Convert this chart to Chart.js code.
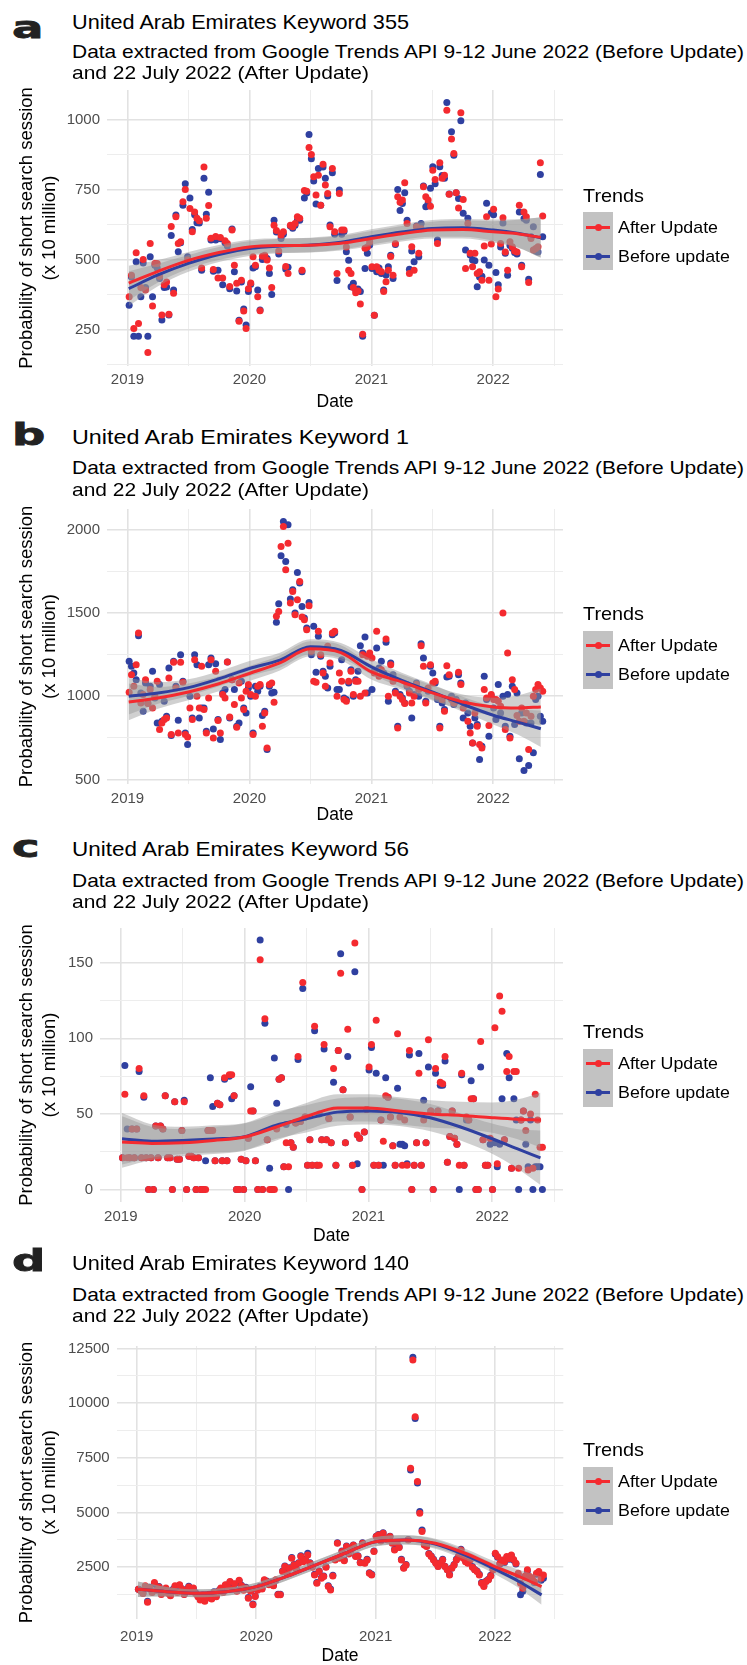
<!DOCTYPE html>
<html>
<head>
<meta charset="utf-8">
<title>UAE keyword trends</title>
<script src="https://cdn.jsdelivr.net/npm/chart.js@4.4.1/dist/chart.umd.min.js"></script>
<style>
  html, body { margin: 0; padding: 0; background: #fff; }
  body { position: relative; width: 747px; height: 1665px; overflow: hidden;
         font-family: "Liberation Sans", Arial, Helvetica, sans-serif; color: #000; }
  canvas { position: absolute; left: 0; z-index: 0; }
  .t { position: absolute; white-space: nowrap; line-height: 1; transform-origin: 0 50%; z-index: 1; }
  .letter { font-family: "DejaVu Sans", sans-serif; font-weight: bold; font-size: 31px; color: #222;
            transform: scaleX(1.5); -webkit-text-stroke: 0.8px #222; }
  .title { font-size: 21px; }
  .sub { font-size: 19px; }
  .leg-title { font-size: 19px; }
  .leg-label { font-size: 17px; }
  .key-box { position: absolute; background: #c2c2c2; z-index: 1; }
  .key-line { position: absolute; height: 3px; z-index: 2; }
  .key-dot { position: absolute; width: 7px; height: 7px; border-radius: 50%; z-index: 3; }
</style>
</head>
<body>
<script>
// weekly Google Trends series, first week starting 6 Jan 2019
const firstWeek = Date.UTC(2019, 0, 6);

// a - Keyword 355
const afterA = [367, 444, 254, 524, 272, 400, 500, 391, 168, 557,
  334, 486, 486, 440, 302, 410, 420, 305, 618, 380,
  653, 557, 563, 706, 750, 498, 682, 599, 670, 647,
  638, 470, 830, 647, 693, 576, 464, 582, 434, 579,
  434, 567, 557, 404, 605, 480, 415, 280, 426, 316,
  254, 396, 416, 510, 480, 367, 317, 512, 515, 498,
  470, 400, 622, 604, 530, 587, 599, 475, 450, 622,
  617, 629, 653, 647, 462, 746, 744, 900, 875, 795,
  730, 801, 694, 840, 766, 736, 617, 825, 599, 450,
  736, 605, 605, 545, 462, 450, 400, 381, 388, 341,
  233, 540, 545, 563, 474, 301, 474, 462, 456, 386,
  421, 462, 511, 444, 557, 724, 704, 712, 774, 629,
  450, 546, 462, 617, 522, 610, 760, 724, 712, 690,
  819, 786, 557, 845, 790, 801, 1033, 733, 930, 878,
  738, 684, 1024, 714, 468, 629, 522, 474, 522, 450,
  456, 426, 548, 653, 426, 555, 679, 367, 395, 557,
  649, 527, 462, 563, 546, 530, 527, 694, 474, 670,
  653, 418, 575, 534, 539, 546, 845, 655];
const beforeA = [337, 438, 226, 492, 226, 367, 488, 400, 226, 510,
  367, 480, 470, 432, 284, 400, 402, 302, 586, 391,
  659, 528, 560, 694, 770, 510, 720, 607, 660, 631,
  630, 462, 790, 662, 740, 570, 458, 570, 462, 574,
  410, 560, 548, 396, 609, 456, 388, 283, 420, 323,
  266, 386, 412, 470, 474, 391, 320, 500, 512, 504,
  450, 375, 640, 598, 520, 575, 590, 466, 472, 620,
  612, 622, 640, 640, 456, 720, 737, 946, 860, 780,
  698, 825, 694, 830, 790, 727, 623, 810, 590, 425,
  748, 590, 600, 528, 497, 403, 415, 392, 395, 386,
  226, 468, 522, 552, 468, 301, 456, 470, 450, 391,
  445, 474, 515, 432, 554, 750, 675, 700, 738, 640,
  465, 530, 492, 620, 510, 629, 762, 688, 700, 754,
  831, 770, 570, 831, 800, 790, 1060, 734, 956, 872,
  738, 718, 995, 665, 534, 647, 516, 498, 496, 403,
  438, 440, 498, 701, 480, 666, 660, 454, 410, 545,
  630, 522, 444, 550, 540, 525, 520, 670, 480, 646,
  640, 430, 581, 617, 530, 527, 803, 581];

// b - Keyword 1
const afterB = [1024, 1130, 1060, 1190, 1380, 960, 1010, 1100, 956, 1040,
  930, 1000, 1090, 800, 840, 860, 870, 1110, 770, 1204,
  1050, 780, 1204, 1084, 770, 756, 930, 860, 1220, 1000,
  930, 1180, 920, 780, 990, 1220, 750, 1150, 854, 780,
  1010, 990, 1206, 876, 1100, 950, 814, 1080, 990, 920,
  1030, 1070, 1010, 770, 1000, 1060, 1070, 820, 900, 690,
  1070, 1080, 964, 1480, 1510, 1900, 2020, 1760, 1920, 1560,
  1630, 1490, 1580, 1690, 1476, 1460, 1400, 1544, 1270, 1090,
  1084, 1390, 1250, 1140, 1060, 1300, 1200, 1380, 1390, 1000,
  1140, 1090, 980, 970, 1090, 1150, 1010, 1090, 1090, 1000,
  1250, 1020, 1240, 1260, 1230, 1140, 1390, 1120, 1160, 1130,
  1344, 1000, 1190, 1090, 1020, 810, 1000, 980, 956, 1070,
  1020, 960, 1000, 1070, 1040, 1304, 1180, 960, 1050, 1190,
  1080, 1090, 1000, 810, 980, 910, 1184, 1130, 980, 960,
  970, 1144, 1070, 930, 950, 850, 780, 720, 900, 820,
  710, 690, 1040, 990, 824, 1010, 980, 980, 970, 940,
  1500, 800, 1260, 750, 1100, 1040, 884, 850, 930, 850,
  900, 680, 880, 1000, 1040, 1070, 1050, 1030];
const beforeB = [1210, 1180, 1140, 1100, 1364, 1020, 910, 1080, 960, 1060,
  1150, 990, 840, 1070, 850, 970, 880, 1170, 764, 1210,
  1060, 856, 1250, 1090, 780, 710, 1000, 870, 1250, 1190,
  870, 930, 930, 790, 1190, 1230, 804, 1196, 860, 740,
  1020, 1040, 1206, 870, 1100, 1040, 820, 840, 1090, 930,
  900, 1050, 1000, 780, 1060, 1030, 1060, 884, 910, 680,
  1060, 1020, 1024, 1444, 1556, 1844, 2050, 1810, 2030, 1584,
  1640, 1500, 1744, 1680, 1540, 1470, 1410, 1564, 1250, 1420,
  1144, 1360, 1240, 1150, 1120, 1050, 1180, 1370, 1380, 1040,
  1040, 1220, 990, 980, 1080, 1160, 1000, 1100, 1150, 1304,
  1260, 1356, 1020, 1250, 1040, 1150, 1290, 1170, 1210, 1140,
  1324, 970, 1200, 1130, 1030, 820, 1010, 990, 960, 1060,
  1030, 870, 1010, 1080, 1000, 1316, 1230, 970, 1030, 1180,
  1140, 1080, 980, 820, 960, 920, 1116, 1120, 1000, 950,
  980, 1130, 1080, 870, 960, 900, 820, 720, 870, 830,
  620, 700, 1120, 980, 760, 1000, 930, 860, 1070, 900,
  1000, 820, 1010, 760, 1060, 830, 1020, 624, 900, 554,
  840, 584, 840, 660, 980, 1000, 880, 850];

// c - Keyword 56
const afterC = [21, 63, 21, 21, 40, 21, 40, 80, 21, 62,
  21, 0, 21, 0, 42, 21, 42, 40, 62, 21,
  21, 0, 58, 20, 20, 39, 58, 0, 22, 22,
  21, 0, 21, 0, 0, 0, 39, 39, 39, 19,
  57, 56, 19, 74, 19, 76, 76, 62, 0, 0,
  20, 0, 19, 34, 52, 52, 19, 0, 152, 0,
  113, 33, 0, 0, 0, 40, 73, 74, 15, 31,
  15, 31, 28, 44, 88, 45, 137, 48, 16, 33,
  16, 108, 16, 16, 33, 96, 33, 47, 31, 80,
  16, 92, 143, 66, 31, 106, 48, 16, 163, 36,
  34, 0, 38, 53, 81, 96, 16, 112, 16, 46,
  32, 62, 61, 48, 29, 16, 103, 48, 16, 46,
  16, 92, 0, 16, 31, 77, 16, 46, 31, 99,
  52, 0, 80, 52, 71, 70, 88, 18, 35, 52,
  34, 30, 16, 77, 16, 48, 46, 60, 60, 0,
  0, 98, 33, 16, 16, 34, 0, 107, 17, 128,
  118, 33, 78, 88, 14, 78, 78, 14, 46, 52,
  39, 13, 50, 14, 63, 46, 28, 28];
const beforeC = [21, 82, 40, 21, 40, 21, 40, 78, 21, 61,
  21, 0, 21, 0, 42, 21, 42, 40, 62, 21,
  21, 0, 58, 20, 20, 39, 59, 0, 22, 22,
  21, 0, 21, 0, 0, 19, 39, 74, 55, 19,
  57, 56, 19, 73, 19, 75, 60, 62, 0, 0,
  20, 0, 19, 34, 68, 52, 19, 0, 165, 0,
  110, 33, 14, 0, 87, 57, 73, 74, 15, 43,
  0, 31, 28, 44, 86, 45, 133, 48, 16, 33,
  16, 105, 16, 50, 33, 93, 33, 47, 31, 71,
  16, 92, 156, 66, 31, 88, 48, 16, 144, 17,
  34, 0, 38, 53, 79, 94, 16, 77, 16, 46,
  16, 74, 61, 48, 29, 16, 67, 30, 30, 29,
  17, 89, 0, 16, 31, 90, 16, 59, 31, 81,
  52, 0, 77, 52, 69, 69, 85, 18, 35, 52,
  34, 30, 0, 76, 16, 46, 46, 72, 60, 0,
  0, 81, 33, 16, 16, 30, 0, 31, 15, 30,
  60, 33, 90, 74, 14, 60, 46, 0, 46, 52,
  30, 15, 46, 0, 15, 15, 15, 0];

// d - Keyword 140
const afterD = [1495, 1420, 1300, 1650, 900, 1550, 1350, 1800, 1450, 1600,
  1250, 1400, 1550, 1300, 1200, 1450, 1650, 1350, 1700, 1500,
  1250, 1450, 1600, 1400, 1550, 1300, 1150, 1000, 1200, 950,
  1100, 1250, 1050, 1350, 1150, 1400, 1550, 1350, 1700, 1600,
  1850, 1500, 1750, 1400, 1900, 1650, 1450, 1550, 1085, 1400,
  780, 1161, 1450, 1600, 1500, 1922, 1846, 1700, 1800, 1650,
  1922, 1237, 1237, 2303, 2531, 2200, 2450, 2911, 2600, 2400,
  2683, 2988, 2750, 2835, 3064, 2683, 2500, 2150, 1770, 2300,
  1998, 2074, 2500, 1617, 1465, 2100, 2835, 3596, 2911, 3216,
  2800, 3444, 3100, 3292, 3500, 2988, 3000, 2700, 3596, 2683,
  2835, 2226, 2150, 3216, 3901, 3977, 3700, 4053, 3825, 3748,
  3900, 3596, 3292, 3596, 3400, 2835, 2455, 2607, 3748, 7021,
  11967, 9380, 6412, 4966, 4129, 3520, 3444, 3100, 2988, 2835,
  2683, 2531, 2683, 2835, 2531, 2379, 2150, 2450, 2607, 2835,
  2988, 3292, 2911, 2750, 2683, 2835, 2500, 2379, 2303, 2150,
  1770, 1617, 1846, 1922, 2100, 2379, 3140, 2988, 2683, 2835,
  2750, 2988, 2900, 3064, 2850, 2683, 2226, 1770, 1541, 2100,
  2379, 2074, 1998, 1846, 2226, 2303, 1998, 2150];
const beforeD = [1495, 1450, 1320, 1600, 950, 1580, 1380, 1750, 1470, 1620,
  1280, 1420, 1500, 1330, 1230, 1480, 1620, 1380, 1680, 1520,
  1270, 1470, 1630, 1420, 1520, 1330, 1180, 1030, 1230, 980,
  1130, 1270, 1080, 1380, 1180, 1420, 1530, 1380, 1680, 1620,
  1820, 1530, 1720, 1430, 1870, 1680, 1480, 1580, 1120, 1420,
  820, 1190, 1470, 1620, 1530, 1900, 1870, 1730, 1830, 1680,
  1900, 1270, 1260, 2330, 2560, 2230, 2480, 2950, 2630, 2430,
  2700, 3020, 2780, 2870, 3140, 2700, 2530, 2180, 1800, 2330,
  2030, 2100, 2520, 1650, 1500, 2130, 2860, 3620, 2940, 3240,
  2830, 3470, 3130, 3320, 3520, 3010, 3030, 2730, 3620, 2710,
  2860, 2250, 2180, 3240, 3920, 4000, 3720, 4080, 3850, 3770,
  3920, 3620, 3320, 3620, 3430, 2860, 2480, 2630, 3770, 6945,
  12100, 9300, 6350, 5050, 4200, 3550, 3470, 3130, 3010, 2860,
  2700, 2550, 2700, 2860, 2550, 2400, 2180, 2470, 2630, 2860,
  3010, 3320, 2940, 2780, 2700, 2860, 2530, 2400, 2330, 2180,
  1800, 1650, 1870, 1950, 2130, 2400, 3100, 2960, 2650, 2800,
  2720, 2950, 2870, 3030, 2820, 2650, 2150, 1237, 1400, 2050,
  2330, 2030, 1950, 1800, 2180, 2250, 1900, 2000];

// loess fits and standard errors, read at these dates
const smoothYears = [2019.01, 2019.25, 2019.5, 2019.75, 2020, 2020.25, 2020.5, 2020.75,
  2021, 2021.25, 2021.5, 2021.75, 2022, 2022.2, 2022.39];
const fitAfterA = [416, 458, 497, 525, 545, 550, 551, 558, 575, 592, 605, 607, 599, 592, 579];
const fitBeforeA = [396, 445, 486, 518, 539, 548, 552, 562, 581, 598, 611, 613, 605, 594, 578];
const seA = [62, 40, 30, 27, 26, 26, 26, 26, 27, 28, 30, 32, 38, 50, 72];
const fitAfterB = [966, 990, 1026, 1075, 1137, 1200, 1285, 1262, 1146, 1086, 1020, 966, 936, 930, 936];
const fitBeforeB = [1000, 1020, 1052, 1105, 1167, 1217, 1297, 1275, 1177, 1096, 1026, 952, 886, 845, 805];
const seB = [110, 65, 50, 45, 45, 45, 45, 45, 45, 45, 45, 45, 55, 75, 110];
const fitAfterC = [31.4, 30.5, 31, 32.5, 34.7, 41.2, 48.3, 54, 54, 52, 50, 49, 47.5, 46.5, 46];
const fitBeforeC = [33.6, 32, 32.5, 33.5, 35, 42.4, 46.8, 51.2, 52, 51, 47.5, 41.2, 33.6, 27, 21];
const seC = [17, 11, 9, 9, 9, 9, 9, 9, 9, 9, 9, 9, 10, 13, 18];
const fitAfterD = [1495, 1380, 1312, 1380, 1614, 2071, 2605, 3150, 3669, 3747, 3596, 3139, 2527, 2080, 1614];
const fitBeforeD = [1495, 1380, 1312, 1380, 1614, 2071, 2605, 3150, 3669, 3747, 3560, 3050, 2409, 1850, 1235];
const seD = [350, 220, 180, 180, 180, 190, 200, 200, 210, 210, 210, 210, 230, 300, 450];

// axis ticks
const xMajor = [2019, 2020, 2021, 2022];
const xMinor = [2019.5, 2020.5, 2021.5, 2022.5];
const yMajorA = [250, 500, 750, 1000];
const yMinorA = [125, 375, 625, 875];
const yMajorB = [500, 1000, 1500, 2000];
const yMinorB = [750, 1250, 1750];
const yMajorC = [0, 50, 100, 150];
const yMinorC = [25, 75, 125];
const yMajorD = [2500, 5000, 7500, 10000, 12500];
const yMinorD = [1250, 3750, 6250, 8750, 11250];

const letters = ['a', 'b', 'c', 'd'];
const titles = ['United Arab Emirates Keyword 355', 'United Arab Emirates Keyword 1',
  'United Arab Emirates Keyword 56', 'United Arab Emirates Keyword 140'];
const subtitle1 = 'Data extracted from Google Trends API 9-12 June 2022 (Before Update)';
const subtitle2 = 'and 22 July 2022 (After Update)';
const legendTitle = 'Trends';
const seriesNames = ['After Update', 'Before update'];
const yTitle = ['Probability of short search session', '(x 10 million)'];

const RED = '#f42a2f';
const BLUE = '#2f40a0';
const BAND = 'rgba(150,150,150,0.45)';
const W = 747;

const panels = [
  { after: afterA, before: beforeA, fitAfter: fitAfterA, fitBefore: fitBeforeA, se: seA,
    yMajor: yMajorA, yMinor: yMinorA, yMin: 120, yMax: 1105, letterDy: 8,
    top: 90, bottom: 366, left: 107, right: 563, titleY: 21, sub1Y: 51, sub2Y: 72, tickOff: 14, dateY: 402 },
  { after: afterB, before: beforeB, fitAfter: fitAfterB, fitBefore: fitBeforeB, se: seB,
    yMajor: yMajorB, yMinor: yMinorB, yMin: 473, yMax: 2125, letterDy: 0,
    top: 509, bottom: 784, left: 107, right: 563, titleY: 436, sub1Y: 467, sub2Y: 489, tickOff: 15, dateY: 815 },
  { after: afterC, before: beforeC, fitAfter: fitAfterC, fitBefore: fitBeforeC, se: seC,
    yMajor: yMajorC, yMinor: yMinorC, yMin: -8.25, yMax: 173, letterDy: 0,
    top: 927.5, bottom: 1201.5, left: 100, right: 563, titleY: 848, sub1Y: 880, sub2Y: 901, tickOff: 14.5, dateY: 1236 },
  { after: afterD, before: beforeD, fitAfter: fitAfterD, fitBefore: fitBeforeD, se: seD,
    yMajor: yMajorD, yMinor: yMinorD, yMin: 134, yMax: 12610, letterDy: 0,
    top: 1346, bottom: 1619, left: 116.7, right: 563.3, titleY: 1262, sub1Y: 1294, sub2Y: 1315, tickOff: 17.7, dateY: 1656 }
];
const xRange = [2018.832, 2022.572];

Chart.defaults.font.family = '"Liberation Sans", Arial, Helvetica, sans-serif';

function decimalYear(ms) {
  const y = new Date(ms).getUTCFullYear();
  const a = Date.UTC(y, 0, 1), b = Date.UTC(y + 1, 0, 1);
  return y + (ms - a) / (b - a);
}
const weekYears = afterA.map((_, i) => decimalYear(firstWeek + i * 7 * 864e5));

function xy(xs, ys) {
  return ys.map((y, i) => ({ x: xs[i], y: y }));
}

function addText(cls, text, left, centerY, size) {
  const el = document.createElement('div');
  el.className = 't ' + cls;
  el.textContent = text;
  el.style.left = left + 'px';
  el.style.top = (centerY - size / 2) + 'px';
  document.body.appendChild(el);
  return el;
}

function addBox(cls, left, top, w, h, color) {
  const el = document.createElement('div');
  el.className = cls;
  el.style.left = left + 'px';
  el.style.top = top + 'px';
  if (w) el.style.width = w + 'px';
  if (h) el.style.height = h + 'px';
  el.style.background = color;
  document.body.appendChild(el);
}

// stretch a text element horizontally to a measured width, returns the factor
function scaleToWidth(el, target) {
  const w = el.getBoundingClientRect().width;
  const s = target / w;
  el.style.transform = 'scaleX(' + s + ')';
  return s;
}

function gridStyle(major) {
  return {
    drawTicks: false,
    color: ctx => major.includes(ctx.tick.value) ? '#e2e2e2' : '#ededed',
    lineWidth: ctx => major.includes(ctx.tick.value) ? 1.6 : 1
  };
}

panels.forEach((p, k) => {
  // headings
  const titleSize = 21, subSize = 19;
  const letter = addText('letter', letters[k], 12, 0, 31);
  letter.style.top = (p.titleY + 7.5 + 2 + p.letterDy - 0.846 * 31) + 'px';
  const t = addText('title', titles[k], 72, p.titleY, titleSize);
  scaleToWidth(t, 337);
  const s1 = addText('sub', subtitle1, 72, p.sub1Y, subSize);
  const sc = scaleToWidth(s1, 672);
  const s2 = addText('sub', subtitle2, 72, p.sub2Y, subSize);
  s2.style.transform = 'scaleX(' + sc + ')';

  // legend
  const ly = (p.top + p.bottom) / 2 - 33;
  const lt = addText('leg-title', legendTitle, 583, ly, 19);
  scaleToWidth(lt, 61);
  addBox('key-box', 583, ly + 17, 30, 58, '#c2c2c2');
  let labelScale = 1;
  [RED, BLUE].forEach((c, j) => {
    const ry = ly + 32 + 29 * j;
    addBox('key-line', 586, ry - 1.5, 24, 3, c);
    addBox('key-dot', 594.5, ry - 3.5, 7, 7, c);
    const lab = addText('leg-label', seriesNames[j], 618, ry, 17);
    if (j === 0) labelScale = scaleToWidth(lab, 100);
    else lab.style.transform = 'scaleX(' + labelScale + ')';
  });

  // chart
  const cTop = p.top - 22;
  const cBottom = p.dateY + 12.5;
  const canvas = document.createElement('canvas');
  canvas.width = W;
  canvas.height = Math.round(cBottom - cTop);
  canvas.style.top = cTop + 'px';
  document.body.appendChild(canvas);
  const xAxisHeight = canvas.height - (p.bottom - cTop);

  const smooth = { type: 'line', pointRadius: 0, cubicInterpolationMode: 'monotone', fill: false };
  const band = (fit, sign) => fit.map((v, i) => v + sign * p.se[i]);
  const pts = { type: 'line', showLine: false, pointRadius: 3.5, pointBorderWidth: 0 };
  const clear = 'rgba(0,0,0,0)';

  const datasets = [
    Object.assign({}, smooth, { data: xy(smoothYears, p.fitAfter), borderColor: RED, borderWidth: 3, order: 0 }),
    Object.assign({}, smooth, { data: xy(smoothYears, p.fitBefore), borderColor: BLUE, borderWidth: 3, order: 1 }),
    Object.assign({}, smooth, { data: xy(smoothYears, band(p.fitAfter, 1)), borderColor: clear, borderWidth: 0, fill: '+1', backgroundColor: BAND, order: 2 }),
    Object.assign({}, smooth, { data: xy(smoothYears, band(p.fitAfter, -1)), borderColor: clear, borderWidth: 0, order: 2 }),
    Object.assign({}, smooth, { data: xy(smoothYears, band(p.fitBefore, 1)), borderColor: clear, borderWidth: 0, fill: '+1', backgroundColor: BAND, order: 3 }),
    Object.assign({}, smooth, { data: xy(smoothYears, band(p.fitBefore, -1)), borderColor: clear, borderWidth: 0, order: 3 }),
    Object.assign({}, pts, { label: seriesNames[0], data: xy(weekYears, p.after), borderColor: RED, pointBackgroundColor: RED, pointBorderColor: RED, order: 4 }),
    Object.assign({}, pts, { label: seriesNames[1], data: xy(weekYears, p.before), borderColor: BLUE, pointBackgroundColor: BLUE, pointBorderColor: BLUE, order: 5 })
  ];

  new Chart(canvas, {
    type: 'line',
    data: { datasets: datasets },
    options: {
      responsive: false,
      animation: false,
      events: [],
      layout: { padding: { top: p.top - cTop, right: W - p.right, left: 0, bottom: 0 } },
      plugins: { legend: { display: false }, tooltip: { enabled: false } },
      scales: {
        x: {
          type: 'linear',
          min: xRange[0],
          max: xRange[1],
          afterBuildTicks: s => { s.ticks = xMajor.concat(xMinor).sort((a, b) => a - b).map(v => ({ value: v })); },
          afterFit: s => { s.height = xAxisHeight; },
          grid: gridStyle(xMajor),
          border: { display: false },
          ticks: {
            autoSkip: false, maxRotation: 0, padding: p.tickOff - 9, color: '#4d4d4d',
            font: { size: 15 },
            callback: v => xMajor.includes(v) ? String(v) : ''
          },
          title: { display: true, text: 'Date', color: '#000', font: { size: 17.5 }, padding: { top: 0, bottom: 2 } }
        },
        y: {
          min: p.yMin,
          max: p.yMax,
          afterBuildTicks: s => { s.ticks = p.yMajor.concat(p.yMinor).sort((a, b) => a - b).map(v => ({ value: v })); },
          afterFit: s => { s.width = p.left; },
          grid: gridStyle(p.yMajor),
          border: { display: false },
          ticks: {
            autoSkip: false, padding: 7, color: '#4d4d4d',
            font: { size: 15 },
            callback: v => p.yMajor.includes(v) ? String(v) : ''
          },
          title: {
            display: true, text: yTitle, color: '#000',
            font: { size: 18.5, lineHeight: 1.25 }, padding: { top: 15, bottom: 0 }
          }
        }
      }
    }
  });
});
</script>
</body>
</html>
